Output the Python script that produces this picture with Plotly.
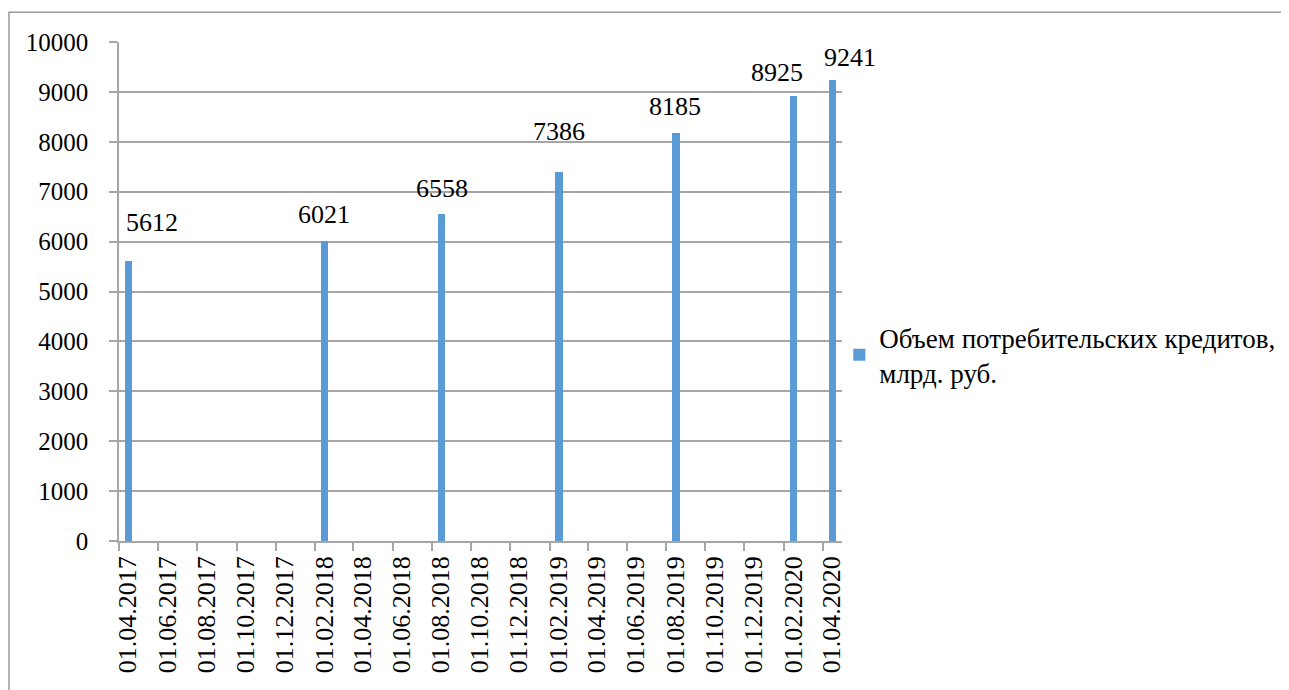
import plotly.graph_objects as go

# ---- data ----
dates = ["2017-04-01", "2018-02-01", "2018-08-01", "2019-02-01",
         "2019-08-01", "2020-02-01", "2020-04-01"]
values = [5612, 6021, 6558, 7386, 8185, 8925, 9241]
series_name = "Объем потребительских кредитов,<br>млрд. руб."

tick_dates = ["2017-04-01", "2017-06-01", "2017-08-01", "2017-10-01", "2017-12-01",
              "2018-02-01", "2018-04-01", "2018-06-01", "2018-08-01", "2018-10-01",
              "2018-12-01", "2019-02-01", "2019-04-01", "2019-06-01", "2019-08-01",
              "2019-10-01", "2019-12-01", "2020-02-01", "2020-04-01"]
tick_labels = ["01.04.2017", "01.06.2017", "01.08.2017", "01.10.2017", "01.12.2017",
               "01.02.2018", "01.04.2018", "01.06.2018", "01.08.2018", "01.10.2018",
               "01.12.2018", "01.02.2019", "01.04.2019", "01.06.2019", "01.08.2019",
               "01.10.2019", "01.12.2019", "01.02.2020", "01.04.2020"]

# ---- styles ----
FONT = "Liberation Serif, Times New Roman, serif"
BAR_COLOR = "#5b9bd5"
GRID = "#a6a6a6"
DAY_MS = 24 * 3600 * 1000
HALF_MONTH_PX = 10
label_dx = [23, -1, 0, -1, -1, -17, 17]
label_dy = [38, 26, 25, 41, 26, 23, 22]

# page body margin in the browser (8px) is compensated
OFF = 8
WIN_W, WIN_H = 1289, 690
W, H = WIN_W - OFF, WIN_H - OFF
PLOT_L, PLOT_R, PLOT_T, PLOT_B = 119, 841.7, 41.7, 541   # window coordinates
L, T = PLOT_L - OFF, PLOT_T - OFF
pw, ph = PLOT_R - PLOT_L, PLOT_B - PLOT_T
R, B = W - L - pw, H - T - ph

fig = go.Figure()
fig.add_trace(go.Bar(
    x=dates, y=values, name=series_name,
    xperiod="M1", xperiodalignment="middle",
    width=11.5 * DAY_MS,
    marker=dict(color=BAR_COLOR, line=dict(width=0)),
    showlegend=True,
))

for d, v, dx, dy in zip(dates, values, label_dx, label_dy):
    fig.add_annotation(x=d, y=v, text=str(v), showarrow=False,
                       xref="x", yref="y", xanchor="center", yanchor="middle",
                       xshift=HALF_MONTH_PX + dx, yshift=dy,
                       font=dict(family=FONT, size=26, color="black"))

# outer chart border (window coords: left 9, top 12)
fig.add_shape(type="rect", xref="paper", yref="paper",
              x0=(9 - PLOT_L) / pw, x1=(WIN_W + 20 - PLOT_L) / pw,
              y0=(PLOT_B - WIN_H - 20) / ph, y1=1 + (PLOT_T - 12) / ph,
              line=dict(color="#9a9a9a", width=1.5), fillcolor="rgba(0,0,0,0)",
              layer="below")

fig.update_layout(
    width=W, height=H,
    margin=dict(l=L, r=R, t=T, b=B, autoexpand=False),
    paper_bgcolor="white", plot_bgcolor="white",
    font=dict(family=FONT, size=25, color="black"),
    bargap=0,
    legend=dict(x=(879 - 40 - PLOT_L) / pw, y=(PLOT_B - 355) / ph,
                xanchor="left", yanchor="middle",
                font=dict(family=FONT, size=27, color="black"),
                bgcolor="rgba(0,0,0,0)", borderwidth=0),
    xaxis=dict(
        type="date", automargin=False,
        range=["2017-04-01", "2020-05-01"],
        tickmode="array", tickvals=tick_dates, ticktext=tick_labels,
        tickangle=-90, ticks="outside", ticklen=8, tickcolor=GRID, tickwidth=1.5,
        showline=True, linecolor=GRID, linewidth=1.5,
        showgrid=False, zeroline=False,
        tickfont=dict(family=FONT, size=26, color="black"),
        ticklabelstandoff=-5, ticklabelshift=9,
    ),
    yaxis=dict(
        automargin=False,
        range=[0, 10000], dtick=1000, tick0=0, tickformat="d",
        ticks="outside", ticklen=8, tickcolor=GRID, tickwidth=1.5,
        showline=True, linecolor=GRID, linewidth=1.5,
        showgrid=True, gridcolor=GRID, gridwidth=1.5,
        zeroline=False,
        tickfont=dict(family=FONT, size=25, color="black"),
        ticklabelstandoff=16,
    ),
)

fig.write_html("out.html")
